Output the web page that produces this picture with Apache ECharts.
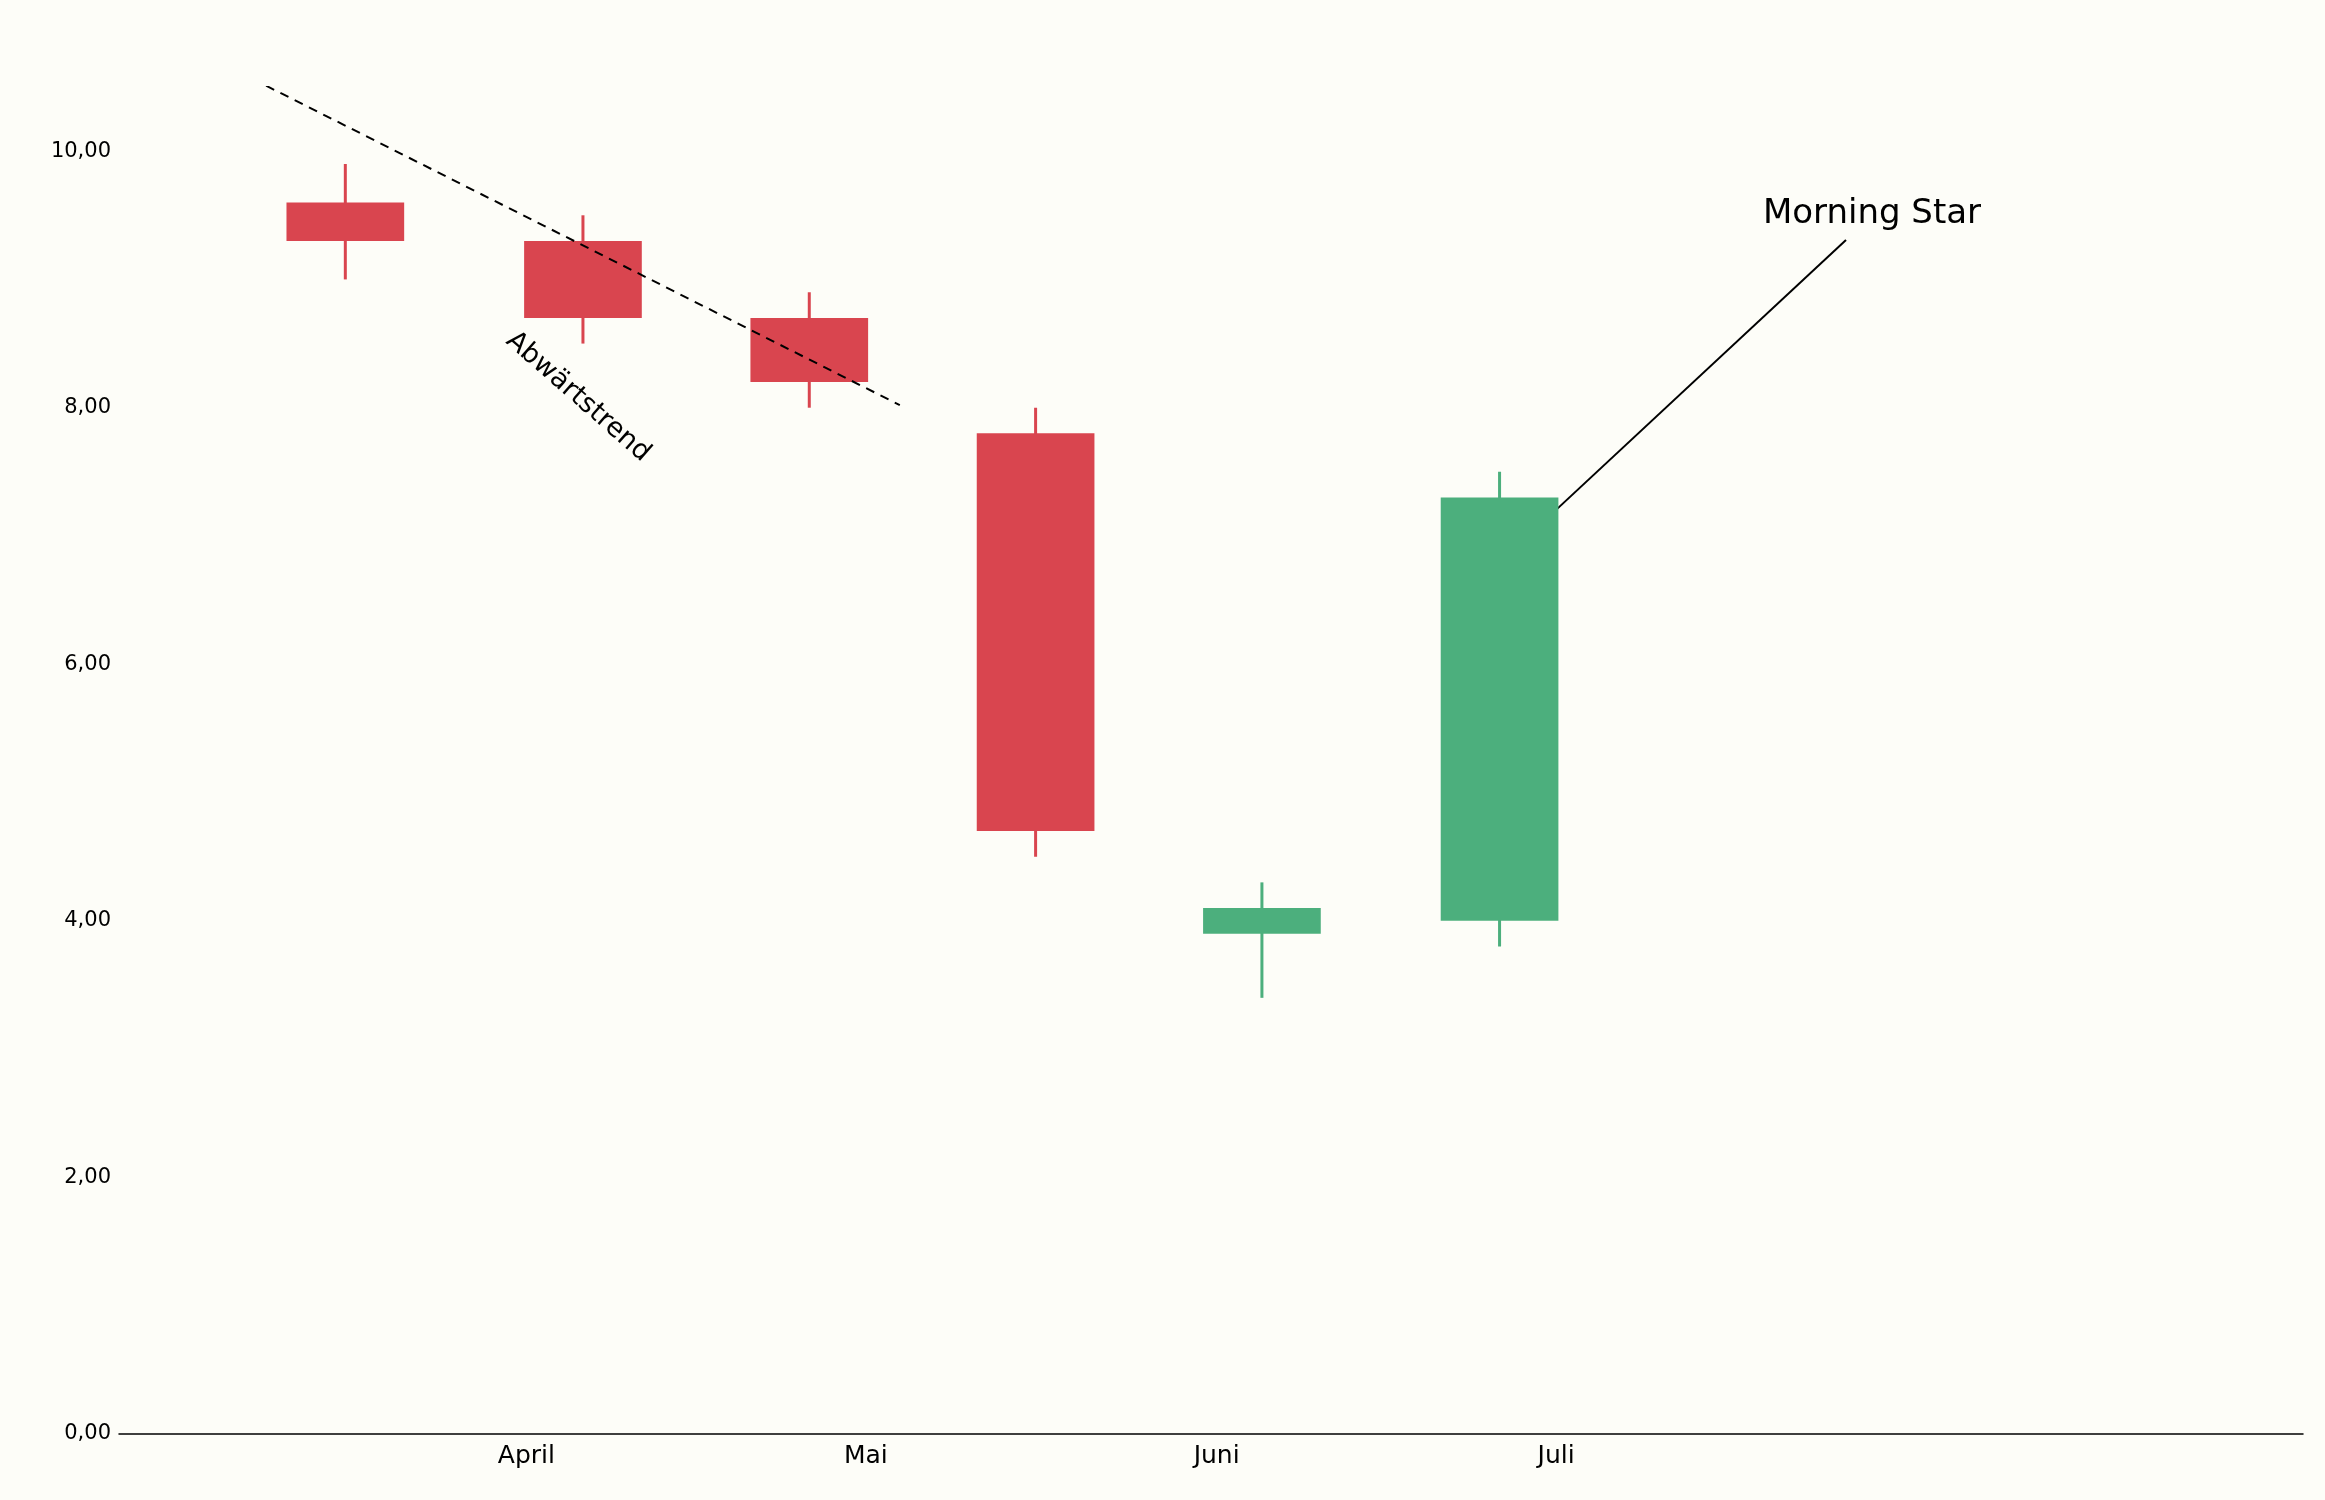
<!DOCTYPE html>
<html><head><meta charset="utf-8">
<script src="https://cdn.jsdelivr.net/npm/echarts@6/dist/echarts.min.js"></script>
<style>html,body{margin:0;background:#fdfdf8}#c{width:2325px;height:1500px}</style>
</head><body><div id="c"></div>
<script>
const dates = ['2024-03-16','2024-04-06','2024-04-26','2024-05-16','2024-06-05','2024-06-26'];
const opens = [9.6, 9.3, 8.7, 7.8, 3.9, 4.0];
const closes = [9.3, 8.7, 8.2, 4.7, 4.1, 7.3];
const highs = [9.9, 9.5, 8.9, 8.0, 4.3, 7.5];
const lows = [9.0, 8.5, 8.0, 4.5, 3.4, 3.8];
const monthDates = ['2024-04-01','2024-05-01','2024-06-01','2024-07-01'];
const monthLabels = ['April','Mai','Juni','Juli'];
const trendDates = ['2024-03-09','2024-05-04'];
const trendValues = [10.51, 8.02];
const arrowTip = ['2024-06-29', 7.04];
const RED = '#d9454f', GREEN = '#4caf7d';
const t = d => new Date(d + 'T00:00:00').getTime();
const data = dates.map((d,i)=>[t(d), opens[i], closes[i], lows[i], highs[i]]);
const chart = echarts.init(document.getElementById('c'));
chart.setOption({
  backgroundColor:'#fdfdf8', animation:false,
  grid:{left:119,right:22,top:87,bottom:66},
  xAxis:{type:'time',min:t('2024-02-25'),max:t('2024-09-05'),
    axisLine:{lineStyle:{color:'#000',width:1.5}},axisTick:{show:false},axisLabel:{show:false},splitLine:{show:false}},
  yAxis:{type:'value',min:0,max:10.5,interval:2,
    axisLine:{show:false},axisTick:{show:false},splitLine:{show:false},
    axisLabel:{showMaxLabel:false,color:'#000',fontSize:21,fontFamily:'DejaVu Sans',margin:8,
      formatter:v=>v.toFixed(2).replace('.',',')}},
  series:[
    {type:'custom',data:data,encode:{x:0,y:[1,2,3,4]},
     renderItem:(params,api)=>{
       const x=api.value(0),o=api.value(1),c=api.value(2),l=api.value(3),h=api.value(4);
       const col=c>=o?GREEN:RED;
       const w=api.size([10.4*86400000,0])[0];
       const pt=api.coord([x,Math.max(o,c)]), pb=api.coord([x,Math.min(o,c)]);
       const ph=api.coord([x,h]), pl=api.coord([x,l]);
       return {type:'group',children:[
         {type:'line',shape:{x1:ph[0],y1:ph[1],x2:pl[0],y2:pl[1]},style:{stroke:col,lineWidth:3}},
         {type:'rect',shape:{x:pt[0]-w/2,y:pt[1],width:w,height:pb[1]-pt[1]},style:{fill:col}}
       ]};
     }},
    {type:'line',data:trendDates.map((d,i)=>[t(d),trendValues[i]]),symbol:'none',
     lineStyle:{color:'#000',width:2,type:[9,7]},z:5}
  ]
});
const g=[];
monthDates.forEach((d,i)=>{
  const p=chart.convertToPixel({gridIndex:0},[t(d),0]);
  g.push({type:'text',x:p[0],y:p[1]+10,style:{text:monthLabels[i],fontSize:25,fontFamily:'DejaVu Sans',fill:'#000',align:'center',verticalAlign:'top'}});
});
const tip=chart.convertToPixel({gridIndex:0},[t(arrowTip[0]),arrowTip[1]]);
const tail=[1846,240];
const ang=Math.atan2(tip[1]-tail[1],tip[0]-tail[0]);
const L=20,A=0.45;
g.push({type:'line',shape:{x1:tail[0],y1:tail[1],x2:tip[0],y2:tip[1]},style:{stroke:'#000',lineWidth:2}});
g.push({type:'polyline',shape:{points:[[tip[0]-L*Math.cos(ang-A),tip[1]-L*Math.sin(ang-A)],tip,[tip[0]-L*Math.cos(ang+A),tip[1]-L*Math.sin(ang+A)]]},style:{stroke:'#000',lineWidth:2,fill:null}});
g.push({type:'text',x:1872,y:214,style:{text:'Morning Star',fontSize:34,fontFamily:'DejaVu Sans',fill:'#000',align:'center',verticalAlign:'middle'}});
g.push({type:'text',x:578,y:397,rotation:-0.72,style:{text:'Abwärtstrend',fontSize:27,fontFamily:'DejaVu Sans',fill:'#000',align:'center',verticalAlign:'middle'}});
chart.setOption({graphic:g});
</script></body></html>
